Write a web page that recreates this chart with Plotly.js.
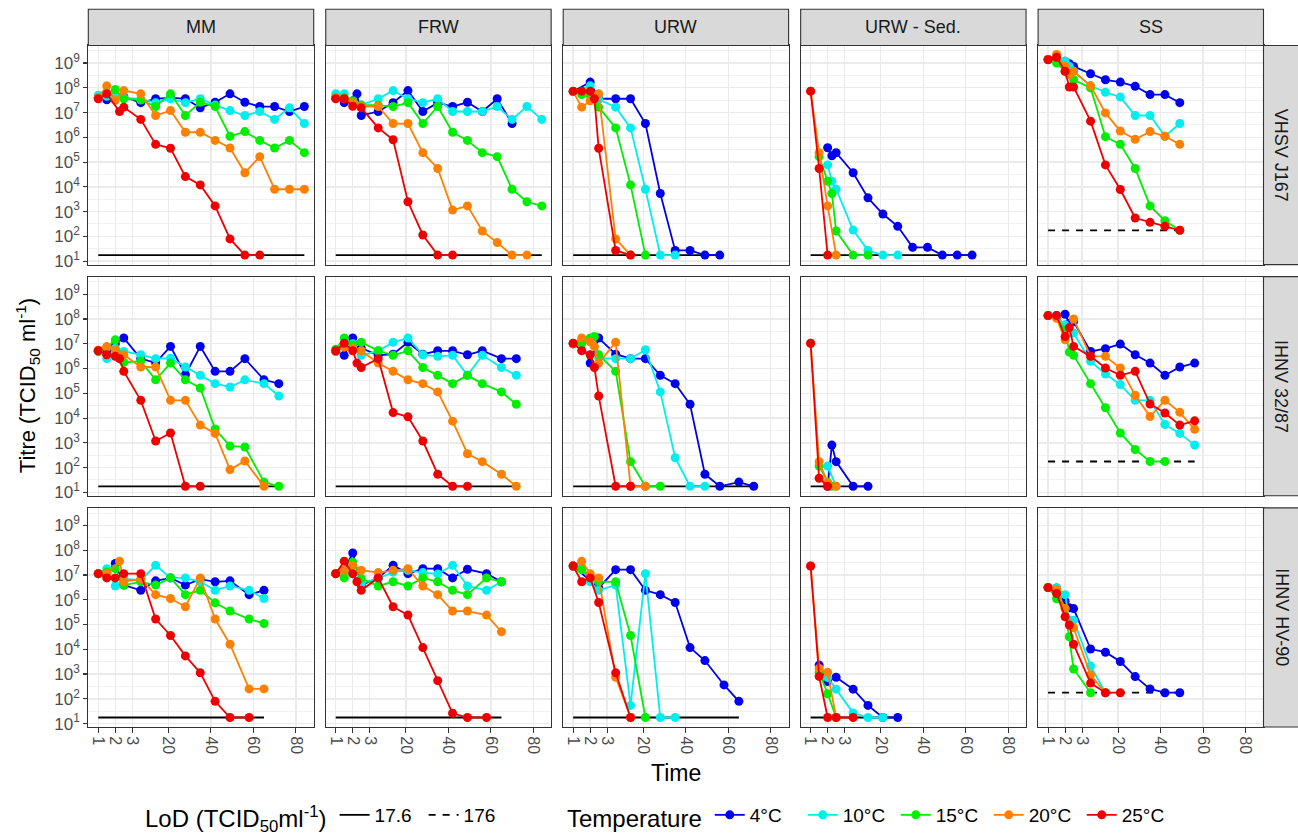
<!DOCTYPE html>
<html><head><meta charset="utf-8">
<script src="https://cdn.plot.ly/plotly-3.0.1.min.js"></script>
<style>html,body{margin:0;padding:0;background:#fff}#chart{width:1298px;height:838px}</style>
</head><body><div id="chart"></div><script>
// ---------- categories ----------
const media = ['MM', 'FRW', 'URW', 'URW - Sed.', 'SS'];
const strains = ['VHSV J167', 'IHNV 32/87', 'IHNV HV-90'];
const temperatures = ['4°C', '10°C', '15°C', '20°C', '25°C'];
const tempColors = ['#0000EE', '#00EEEE', '#00EE00', '#FF8000', '#EE0000'];
const lodValues = [17.6, 17.6, 17.6, 17.6, 176];
const lodNames = ['17.6', '17.6', '17.6', '17.6', '176'];
const xTickTimes = [1, 2, 3, 20, 40, 60, 80];
const xTickLabels = ['1', '2', '3', '20', '40', '60', '80'];
const yTickValues = [1e1, 1e2, 1e3, 1e4, 1e5, 1e6, 1e7, 1e8, 1e9];
const yTickLabels = ['10<sup>1</sup>', '10<sup>2</sup>', '10<sup>3</sup>', '10<sup>4</sup>', '10<sup>5</sup>', '10<sup>6</sup>', '10<sup>7</sup>', '10<sup>8</sup>', '10<sup>9</sup>'];
const yMinorValues = [10**1.5, 10**2.5, 10**3.5, 10**4.5, 10**5.5, 10**6.5, 10**7.5, 10**8.5, 10**9.5];

// ---------- data: time and titre (TCID50/ml) per temperature ----------
// VHSV J167
const VHSV_MM = {
  '4°C':  {t: [1,1.5,2,2.5,7,14,21,28,35,42,49,56,63,70,77,84], v: [4e7,3.3e7,4.5e7,4.4e7,2.5e7,3.6e7,4e7,3.6e7,1.55e7,2.6e7,5.7e7,2.6e7,1.75e7,1.75e7,1.1e7,1.75e7]},
  '10°C': {t: [1,1.5,2,2.5,7,14,21,28,35,42,49,56,63,70,77,84], v: [5e7,4.5e7,4.5e7,4e7,3.5e7,2.5e7,3.6e7,2.5e7,3.6e7,2e7,1.2e7,7.6e6,1.1e7,5.3e6,1.55e7,3.6e6]},
  '15°C': {t: [1,2,2.5,7,14,21,28,35,42,49,56,63,70,77,84], v: [4e7,8.5e7,3.6e7,3.2e7,1.75e7,5.7e7,7.6e6,2.6e7,1.75e7,1.1e6,1.7e6,7.5e5,3.7e5,7.5e5,2.4e5]},
  '20°C': {t: [1,1.5,2,2.5,7,14,21,28,35,42,49,56,63,70,77,84], v: [4e7,1.2e8,3.1e7,7.7e7,5.7e7,7.6e6,1.2e7,1.6e6,1.6e6,7.5e5,3.7e5,3.7e4,1.66e5,8e3,8e3,8e3]},
  '25°C': {t: [1,1.5,2.25,2.5,7,14,21,28,35,42,49,56,63], v: [3.6e7,5.7e7,1.1e7,1.65e7,5.3e6,5.2e5,3.6e5,2.6e4,1.2e4,1.7e3,79,17.6,17.6]}
};
const VHSV_FRW = {
  '4°C':  {t: [1,1.5,2.25,2.5,7,14,21,28,35,42,49,56,63,70], v: [4e7,2.5e7,5.7e7,7.6e6,1.1e7,2.5e7,7.7e7,1.1e7,2.5e7,1.75e7,2.6e7,1.1e7,3.6e7,3.6e6]},
  '10°C': {t: [1,1.5,2,2.5,7,14,21,28,35,42,49,56,63,70,77,84], v: [5.7e7,5.7e7,2.5e7,2e7,3.6e7,7.7e7,3.6e7,2.5e7,3.6e7,1.1e7,1.1e7,1.1e7,1.75e7,5.3e6,1.75e7,5.3e6]},
  '15°C': {t: [1,1.5,2,2.5,7,14,21,28,35,42,49,56,63,70,77,84], v: [4e7,4e7,3e7,2e7,2e7,1.75e7,2.5e7,3.6e6,1.75e7,1.6e6,7.5e5,2.4e5,1.66e5,8e3,2.5e3,1.7e3]},
  '20°C': {t: [1,1.5,2,2.5,7,14,21,28,35,42,49,56,63,70,77], v: [4e7,3.6e7,2.5e7,1.75e7,1.75e7,3.6e6,3.6e6,2.4e5,5.5e4,1.15e3,1.7e3,165,56,17.6,17.6]},
  '25°C': {t: [1,1.5,2,2.5,7,14,21,28,35,42], v: [3.6e7,3.6e7,1.8e7,1.55e7,2.4e6,8e5,2.5e3,114,17.6,17.6]}
};
const VHSV_URW = {
  '4°C':  {t: [1,2,2.5,7,14,21,28,35,42,49,56], v: [7e7,1.7e8,3.6e7,3.6e7,3.6e7,3.6e6,5.4e3,27,27,17.6,17.6]},
  '10°C': {t: [1,2,2.5,7,14,21,28,35], v: [7e7,1.2e8,3.4e7,1.65e7,2.4e6,8e3,17.6,17.6]},
  '15°C': {t: [1,1.5,2,2.5,7,14,21], v: [7e7,5.3e7,5e7,1.65e7,2.4e6,1.2e4,17.6]},
  '20°C': {t: [1,1.5,2,2.5,7,14], v: [7e7,1.65e7,3e7,5.7e7,79,17.6]},
  '25°C': {t: [1,1.5,2,2.25,2.5,7,14], v: [7.3e7,7.3e7,7.3e7,3.6e7,3.6e5,27,17.6]}
};
const VHSV_SED = {
  '4°C':  {t: [2,2.25,2.5,7,14,21,28,35,42,49,56,63], v: [3.8e5,1.8e5,2.4e5,3.7e4,3.6e3,800,254,36,36,17.6,17.6,17.6]},
  '10°C': {t: [2,2.25,2.5,7,14,21,28], v: [7.7e4,1.7e4,8e3,180,27,17.6,17.6]},
  '15°C': {t: [1.5,2,2.25,2.5,7,14], v: [1.66e5,1.7e4,5.4e3,165,17.6,17.6]},
  '20°C': {t: [1,1.5,2,2.5], v: [7.3e7,2.4e5,1.7e3,17.6]},
  '25°C': {t: [1,1.5,2], v: [7.3e7,5.5e4,17.6]}
};
const VHSV_SS = {
  '4°C':  {t: [1,1.5,2,2.25,2.5,7,14,21,28,35,42,49], v: [1.4e9,1.5e9,1.17e9,9.4e8,7.3e8,3.7e8,2.1e8,1.7e8,1.15e8,5.3e7,5.3e7,2.5e7]},
  '10°C': {t: [1,1.5,2,2.25,2.5,7,14,21,28,35,42,49], v: [1.4e9,1.6e9,1.17e9,7.3e8,4.6e8,1.2e8,6.6e7,4.2e7,7.6e6,7.6e6,1.1e6,3.6e6]},
  '15°C': {t: [1,1.5,2,2.25,2.5,7,14,21,28,35,42,49], v: [1.4e9,1e9,4.6e8,3.4e8,2.1e8,9.9e7,1.06e6,5.2e5,5.5e4,1.7e3,430,176]},
  '20°C': {t: [1,1.5,2,2.25,2.5,7,14,21,28,35,42,49], v: [1.4e9,2.2e9,7.3e8,3.4e8,4.6e8,1.2e8,9.7e6,1.8e6,8.3e5,1.7e6,1.1e6,5.2e5]},
  '25°C': {t: [1,1.5,2,2.25,2.5,7,14,21,28,35,42,49], v: [1.36e9,1.7e9,4.6e8,1.08e8,1.08e8,4.5e6,7.7e4,7.8e3,550,368,254,176]}
};
// IHNV 32/87
const IHNV32_MM = {
  '4°C':  {t: [1,1.5,2,2.5,7,14,21,28,35,42,49,56,65,72], v: [5e6,5e6,1e7,1.7e7,2.5e6,1.7e6,7.8e6,5.6e5,7.8e6,7.7e5,7.7e5,2.5e6,3.5e5,2.45e5]},
  '10°C': {t: [1,1.5,2,2.5,7,14,21,28,35,42,49,56,65,72], v: [5e6,2.5e6,6.7e6,4.9e6,3.6e6,2.5e6,2.6e6,1.15e6,5.3e5,2.45e5,1.8e5,3.5e5,2.45e5,7.8e4]},
  '15°C': {t: [1,1.5,2,2.5,7,14,21,28,35,42,49,56,65,72], v: [5.5e6,7e6,1.44e7,1.76e6,2e6,3.5e5,1.66e6,3.5e5,1.64e5,3.6e3,740,680,26,17.6]},
  '20°C': {t: [1,1.5,2,2.5,7,14,21,28,35,42,49,56,65], v: [5.5e6,7.7e6,5.6e6,3.6e6,1.15e6,1.15e6,5.2e4,5.2e4,5.2e3,2.4e3,83,185,17.6]},
  '25°C': {t: [1,1.5,2,2.25,2.5,7,14,21,28,35], v: [5.2e6,3.6e6,3.1e6,2.5e6,7.7e5,5.2e4,1.18e3,2.5e3,17.6,17.6]}
};
const IHNV32_FRW = {
  '4°C':  {t: [1,1.5,2,2.5,7,14,21,28,35,42,49,56,65,72], v: [5e6,3.4e6,1.7e7,6.7e6,3.4e6,3.8e6,1.15e7,3.8e6,5.2e6,5.2e6,3.6e6,5.2e6,2.5e6,2.5e6]},
  '10°C': {t: [1,1.5,2,2.5,7,14,21,28,35,42,49,56,65,72], v: [5e6,8e6,1e7,3.4e6,5.2e6,1.15e7,1.7e7,3.6e6,3.1e6,3.4e6,5.3e5,3.4e6,1.1e6,5.3e5]},
  '15°C': {t: [1,1.5,2,2.5,7,14,21,28,35,42,49,56,65,72], v: [6e6,1.7e7,9e6,1.15e7,5.2e6,3.4e6,5.2e6,1.1e6,5.3e5,2.45e5,5.3e5,2.45e5,1.14e5,3.6e4]},
  '20°C': {t: [1,1.5,2,2.5,7,14,21,28,35,42,49,56,65,72], v: [5e6,7.3e6,6.5e6,5.2e6,1.66e6,7.7e5,3.5e5,2.45e5,1.14e5,7.5e3,363,174,54,17.6]},
  '25°C': {t: [1,1.5,2,2.25,2.5,7,14,21,28,35,42,49], v: [5.2e6,1.05e7,5.2e6,1.66e6,1.1e6,2.5e6,1.66e4,1.12e4,1.18e3,54,17.6,17.6]}
};
const IHNV32_URW = {
  '4°C':  {t: [1,1.5,2,2.5,7,14,21,28,35,42,49,56,65,72], v: [1e7,1.2e7,1.66e6,1.7e7,3.8e6,2.5e6,2.5e6,5.3e5,2.45e5,3.6e4,54,17.6,26,17.6]},
  '10°C': {t: [1,1.5,2,2.5,7,14,21,28,35,42,49], v: [1e7,1.2e7,1.5e7,2.6e6,2.5e6,2.5e6,5.7e6,1.14e5,250,17.6,17.6]},
  '15°C': {t: [1,1.5,2,2.25,2.5,7,14,21,28], v: [1e7,1.05e7,1.7e7,1.95e7,3.6e6,7.7e5,174,17.6,17.6]},
  '20°C': {t: [1,1.5,2,2.25,2.5,7,14,21], v: [1e7,1.7e7,1.2e7,7.8e6,1.66e6,1.15e7,17.6,17.6]},
  '25°C': {t: [1,1.5,2,2.25,2.5,7,14], v: [1.05e7,5.2e6,3.6e6,1.1e6,7.8e4,17.6,17.6]}
};
const IHNV32_SED = {
  '4°C':  {t: [2,2.25,2.5,7,14], v: [17.6,810,174,17.6,17.6]},
  '10°C': {t: [2,2.5], v: [115,17.6]},
  '15°C': {t: [1.5,2,2.25], v: [115,26,17.6]},
  '20°C': {t: [1,1.5,2,2.5], v: [1.05e7,174,24,17.6]},
  '25°C': {t: [1,1.5,2], v: [1.05e7,37,17.6]}
};
const IHNV32_SS = {
  '4°C':  {t: [1,1.5,2,2.25,2.5,7,14,21,28,35,42,49,56], v: [1.37e8,1.37e8,1.56e8,6.7e7,7.9e7,4.9e6,6.3e6,9.7e6,3.6e6,1.66e6,5.3e5,1.15e6,1.66e6]},
  '10°C': {t: [1,1.5,2,2.25,2.5,7,14,21,28,35,42,49,56], v: [1.37e8,1.3e8,5.8e7,2.7e7,2.7e7,1.95e6,6e5,2.24e5,5.2e4,5.2e4,5.5e3,2.4e3,810]},
  '15°C': {t: [1,1.5,2,2.25,2.5,7,14,21,28,35,42], v: [1.37e8,1.2e8,3.6e7,4.6e6,3.4e6,2.45e5,2.6e4,2.5e3,540,176,176]},
  '20°C': {t: [1,1.5,2,2.5,7,14,21,28,35,42,49,56], v: [1.37e8,1.07e8,1.44e7,1e8,3.1e6,3.1e6,1.05e6,8.3e4,1.15e4,5.2e4,1.7e4,3.5e3]},
  '25°C': {t: [1,1.5,2,2.25,2.5,7,14,21,28,35,42,49,56], v: [1.37e8,1.37e8,1.95e7,4.5e7,7.8e6,3.1e6,1.05e6,5.3e5,7.7e5,3.7e4,1.6e4,5.2e3,7.7e3]}
};
// IHNV HV-90
const IHNVHV_MM = {
  '4°C':  {t: [1,1.5,2,2.5,7,14,21,28,35,42,49,58,65], v: [1.13e7,1.3e7,2.9e7,3.9e6,2.4e6,5.8e6,7.6e6,3.9e6,6.8e6,5.3e6,5.8e6,1.6e6,2.4e6]},
  '10°C': {t: [1,1.5,2,2.5,7,14,21,28,35,42,49,58,65], v: [1.13e7,1.8e7,3.6e6,7e6,6e6,2.45e7,7.6e6,7.6e6,5.3e6,2.4e6,3.6e6,2.4e6,1.12e6]},
  '15°C': {t: [1,1.5,2,2.5,7,14,21,28,35,42,49,58,65], v: [1.13e7,1.32e7,1.8e7,3.9e6,5.3e6,3.9e6,7.6e6,1.6e6,2.4e6,7.5e5,3.5e5,1.66e5,1.1e5]},
  '20°C': {t: [1,1.5,2.25,2.5,7,14,21,28,35,42,49,58,65], v: [1.13e7,1.13e7,3.6e7,5.3e6,7e6,1.6e6,1.12e6,5.2e5,7.6e6,1.66e5,1.6e4,250,250]},
  '25°C': {t: [1,1.5,2,2.5,7,14,21,28,35,42,49,58], v: [1.13e7,7.6e6,7.6e6,1.13e7,1.13e7,1.66e5,3.6e4,5.4e3,1.12e3,79,17.6,17.6]}
};
const IHNVHV_FRW = {
  '4°C':  {t: [1,1.5,2,2.5,7,14,21,28,35,42,49,58,65], v: [1.13e7,1.55e7,7.7e7,3.9e6,7.6e6,2.45e7,1.13e7,1.8e7,1.8e7,7.6e6,1.7e7,1.13e7,5.3e6]},
  '10°C': {t: [1,1.5,2,2.5,7,14,21,28,35,42,49,58,65], v: [1.13e7,1.3e7,1.1e7,4.5e6,7.2e6,1.3e7,1.55e7,1.25e7,1.1e7,2.45e7,3.6e6,2.4e6,5.3e6]},
  '15°C': {t: [1,1.5,2,2.5,7,14,21,28,35,42,49,58,65], v: [1.13e7,7.6e6,3.3e7,7.2e6,3.6e6,5.3e6,3.6e6,7.6e6,5.3e6,2.4e6,1.6e6,7.6e6,5.3e6]},
  '20°C': {t: [1,1.5,2,2.5,7,14,21,28,35,42,49,58,65], v: [1.13e7,1.55e7,2.45e7,1.55e7,1.25e7,1.55e7,1.8e7,3.6e6,1.6e6,3.5e5,3.5e5,2.4e5,5.1e4]},
  '25°C': {t: [1,1.5,2,2.25,2.5,7,14,21,28,35,42,49,58], v: [1.13e7,3.6e7,1.13e7,5.3e6,2.4e6,7.6e6,5.2e5,2.4e5,1.17e4,540,26,17.6,17.6]}
};
const IHNVHV_URW = {
  '4°C':  {t: [1,2,2.5,7,14,21,28,35,42,49,58,65], v: [2.3e7,6e6,3e6,1.64e7,1.64e7,2.4e6,1.6e6,7.7e5,1.17e4,3.5e3,363,79]},
  '10°C': {t: [1,1.5,2,2.5,7,14,21,28,35], v: [2.3e7,2e7,5.3e6,2.4e6,3.9e6,54,1.13e7,17.6,17.6]},
  '15°C': {t: [1,1.5,2,2.5,7,14,21], v: [2.3e7,1.64e7,8e6,5.3e6,5.3e6,3.6e4,17.6]},
  '20°C': {t: [1,1.5,2,2.5,7,14], v: [2.3e7,3.6e7,1.13e7,7.6e6,740,17.6]},
  '25°C': {t: [1,1.5,2,2.5,7,14], v: [2.3e7,5.3e6,7.6e6,7.7e5,1.12e3,17.6]}
};
const IHNVHV_SED = {
  '4°C':  {t: [1.5,2,2.5,7,14,21,28], v: [2.3e3,500,740,245,54,17.6,17.6]},
  '10°C': {t: [2,2.5,7,14,21], v: [720,245,27,17.6,17.6]},
  '15°C': {t: [1.5,2,2.5], v: [1.2e3,160,17.6]},
  '20°C': {t: [1,1.5,2,2.5], v: [2.3e7,1.7e3,1.17e3,17.6]},
  '25°C': {t: [1,1.5,2,2.5,7], v: [2.3e7,800,17.6,17.6,17.6]}
};
const IHNVHV_SS = {
  '4°C':  {t: [1,1.5,2,2.25,2.5,7,14,21,28,35,42,49], v: [3.1e6,3e6,8.7e5,4.7e5,4.4e5,1.02e4,7.6e3,3.2e3,790,250,176,176]},
  '10°C': {t: [1,1.5,2,2.25,2.5,7,14], v: [3.1e6,3e6,1.6e6,1.5e5,1.5e5,2.1e3,176]},
  '15°C': {t: [1,1.5,2,2.25,2.5,7], v: [3.1e6,1.1e6,4.4e5,3.2e4,1.6e3,176]},
  '20°C': {t: [1,1.5,2,2.5,7,14], v: [3.1e6,2.6e6,4.4e5,7.4e4,930,176]},
  '25°C': {t: [1,1.5,2,2.25,2.5,7,14,21], v: [3.1e6,1.78e6,2.05e5,9.5e4,1.6e4,430,176,176]}
};

const panels = [
  [VHSV_MM, VHSV_FRW, VHSV_URW, VHSV_SED, VHSV_SS],
  [IHNV32_MM, IHNV32_FRW, IHNV32_URW, IHNV32_SED, IHNV32_SS],
  [IHNVHV_MM, IHNVHV_FRW, IHNVHV_URW, IHNVHV_SED, IHNVHV_SS]
];

// ---------- x scale: first three days stretched ----------
function timeScale(t) { return t <= 3 ? 8 * t : t + 21; }

// ---------- layout geometry (px) ----------
const W = 1298, H = 838;
const colLeft = 88.3, colWidth = 225.4, colStep = 237.45;
const rowTop = 45.7, rowHeight = 220.5, rowStep = 232.6;
const stripH = 36.4, stripW = 35.5;
const FONT = 'Liberation Sans, Arial, sans-serif';

const traces = [];
const layout = {
  width: W, height: H, margin: {l: 0, r: 0, t: 0, b: 0},
  paper_bgcolor: '#ffffff', plot_bgcolor: '#ffffff',
  font: {family: FONT, color: '#1A1A1A'},
  showlegend: true, shapes: [], annotations: [],
  legend: {orientation: 'h', x: 143 / W, y: 1 - 822 / H, xanchor: 'left', yanchor: 'middle',
    title: {text: 'LoD (TCID<sub>50</sub>ml<sup>-1</sup>)', side: 'left', font: {size: 24, color: '#000'}},
    font: {size: 19, color: '#000'}, bgcolor: 'rgba(0,0,0,0)', itemwidth: 30, traceorder: 'normal',
    entrywidth: 44, entrywidthmode: 'pixels'},
  legend2: {orientation: 'h', x: 565 / W, y: 1 - 822 / H, xanchor: 'left', yanchor: 'middle',
    title: {text: 'Temperature', side: 'left', font: {size: 24, color: '#000'}},
    font: {size: 19, color: '#000'}, bgcolor: 'rgba(0,0,0,0)', itemwidth: 30, traceorder: 'normal',
    entrywidth: 48, entrywidthmode: 'pixels'}
};

const lodShown = {};
for (let r = 0; r < 3; r++) {
  for (let c = 0; c < 5; c++) {
    const k = r * 5 + c + 1;
    const xs = 'x' + (k > 1 ? k : ''), ys = 'y' + (k > 1 ? k : '');
    const x0 = colLeft + c * colStep, x1 = x0 + colWidth;
    const y0 = rowTop + r * rowStep, y1 = y0 + rowHeight;
    layout['xaxis' + (k > 1 ? k : '')] = {
      domain: [x0 / W, x1 / W], anchor: ys, range: [3.3, 109.4], fixedrange: true,
      tickmode: 'array', tickvals: xTickTimes.map(timeScale), ticktext: xTickLabels,
      showticklabels: r === 2, ticks: r === 2 ? 'outside' : '', ticklen: 5, tickwidth: 1.1, tickcolor: '#333333',
      tickangle: 90, tickfont: {size: 16, color: '#4D4D4D', family: FONT},
      showgrid: true, gridcolor: '#EBEBEB', gridwidth: 1.4, zeroline: false,
      showline: true, mirror: true, linecolor: '#333333', linewidth: 1.1
    };
    layout['yaxis' + (k > 1 ? k : '')] = {
      domain: [1 - y1 / H, 1 - y0 / H], anchor: xs, type: 'log', range: [0.86, 9.71], fixedrange: true,
      tickmode: 'array', tickvals: yTickValues, ticktext: yTickLabels,
      showticklabels: c === 0, ticks: c === 0 ? 'outside' : '', ticklen: 4, tickwidth: 1.1, tickcolor: '#333333',
      tickfont: {size: 17, color: '#4D4D4D', family: FONT},
      showgrid: true, gridcolor: '#EBEBEB', gridwidth: 1.4, zeroline: false,
      minor: {tickmode: 'array', tickvals: yMinorValues, showgrid: true, gridcolor: '#EBEBEB', gridwidth: 0.7, ticks: ''},
      showline: true, mirror: true, linecolor: '#333333', linewidth: 1.1
    };

    const panel = panels[r][c];
    // limit of detection line over the panel's time span
    let tmin = Infinity, tmax = -Infinity;
    temperatures.forEach(T => panel[T].t.forEach(t => { tmin = Math.min(tmin, t); tmax = Math.max(tmax, t); }));
    const lname = lodNames[c];
    traces.push({
      type: 'scatter', mode: 'lines', xaxis: xs, yaxis: ys,
      x: [timeScale(tmin), timeScale(tmax)], y: [lodValues[c], lodValues[c]],
      line: {color: '#000000', width: 1.8, dash: c === 4 ? '7px,7px' : 'solid'},
      name: lname, legend: 'legend', showlegend: !lodShown[lname], hoverinfo: 'skip'
    });
    lodShown[lname] = true;

    temperatures.forEach((T, i) => {
      traces.push({
        type: 'scatter', mode: 'lines+markers', xaxis: xs, yaxis: ys,
        x: panel[T].t.map(timeScale), y: panel[T].v,
        line: {color: tempColors[i], width: 1.8}, marker: {color: tempColors[i], size: 9},
        name: T, legend: 'legend2', showlegend: k === 1, cliponaxis: false
      });
    });

    // facet strips
    if (r === 0) {
      layout.shapes.push({type: 'rect', xref: 'paper', yref: 'paper', x0: x0 / W, x1: x1 / W,
        y0: 1 - y0 / H, y1: 1 - (y0 - stripH) / H, fillcolor: '#D9D9D9', line: {color: '#333333', width: 1.1}, layer: 'above'});
      layout.annotations.push({xref: 'paper', yref: 'paper', x: (x0 + x1) / 2 / W, y: 1 - (y0 - stripH / 2) / H,
        text: media[c], showarrow: false, font: {size: 18, color: '#1A1A1A', family: FONT}, xanchor: 'center', yanchor: 'middle'});
    }
    if (c === 4) {
      layout.shapes.push({type: 'rect', xref: 'paper', yref: 'paper', x0: x1 / W, x1: (x1 + stripW) / W,
        y0: 1 - y1 / H, y1: 1 - y0 / H, fillcolor: '#D9D9D9', line: {color: '#333333', width: 1.1}, layer: 'above'});
      layout.annotations.push({xref: 'paper', yref: 'paper', x: (x1 + stripW / 2) / W, y: 1 - (y0 + y1) / 2 / H,
        text: strains[r], showarrow: false, textangle: 90, font: {size: 18, color: '#1A1A1A', family: FONT}, xanchor: 'center', yanchor: 'middle'});
    }
  }
}

// axis titles
layout.annotations.push({xref: 'paper', yref: 'paper', x: (colLeft + 4 * colStep + colWidth + colLeft) / 2 / W, y: 1 - 778 / H,
  text: 'Time', showarrow: false, font: {size: 23, color: '#000', family: FONT}, xanchor: 'center', yanchor: 'middle'});
layout.annotations.push({xref: 'paper', yref: 'paper', x: 27 / W, y: 1 - (rowTop + 2 * rowStep + rowHeight + rowTop) / 2 / H,
  text: 'Titre (TCID<sub>50</sub> ml<sup>-1</sup>)', showarrow: false, textangle: -90, font: {size: 22, color: '#000', family: FONT}, xanchor: 'center', yanchor: 'middle'});

Plotly.newPlot('chart', traces, layout, {displayModeBar: false, staticPlot: true});
</script></body></html>
